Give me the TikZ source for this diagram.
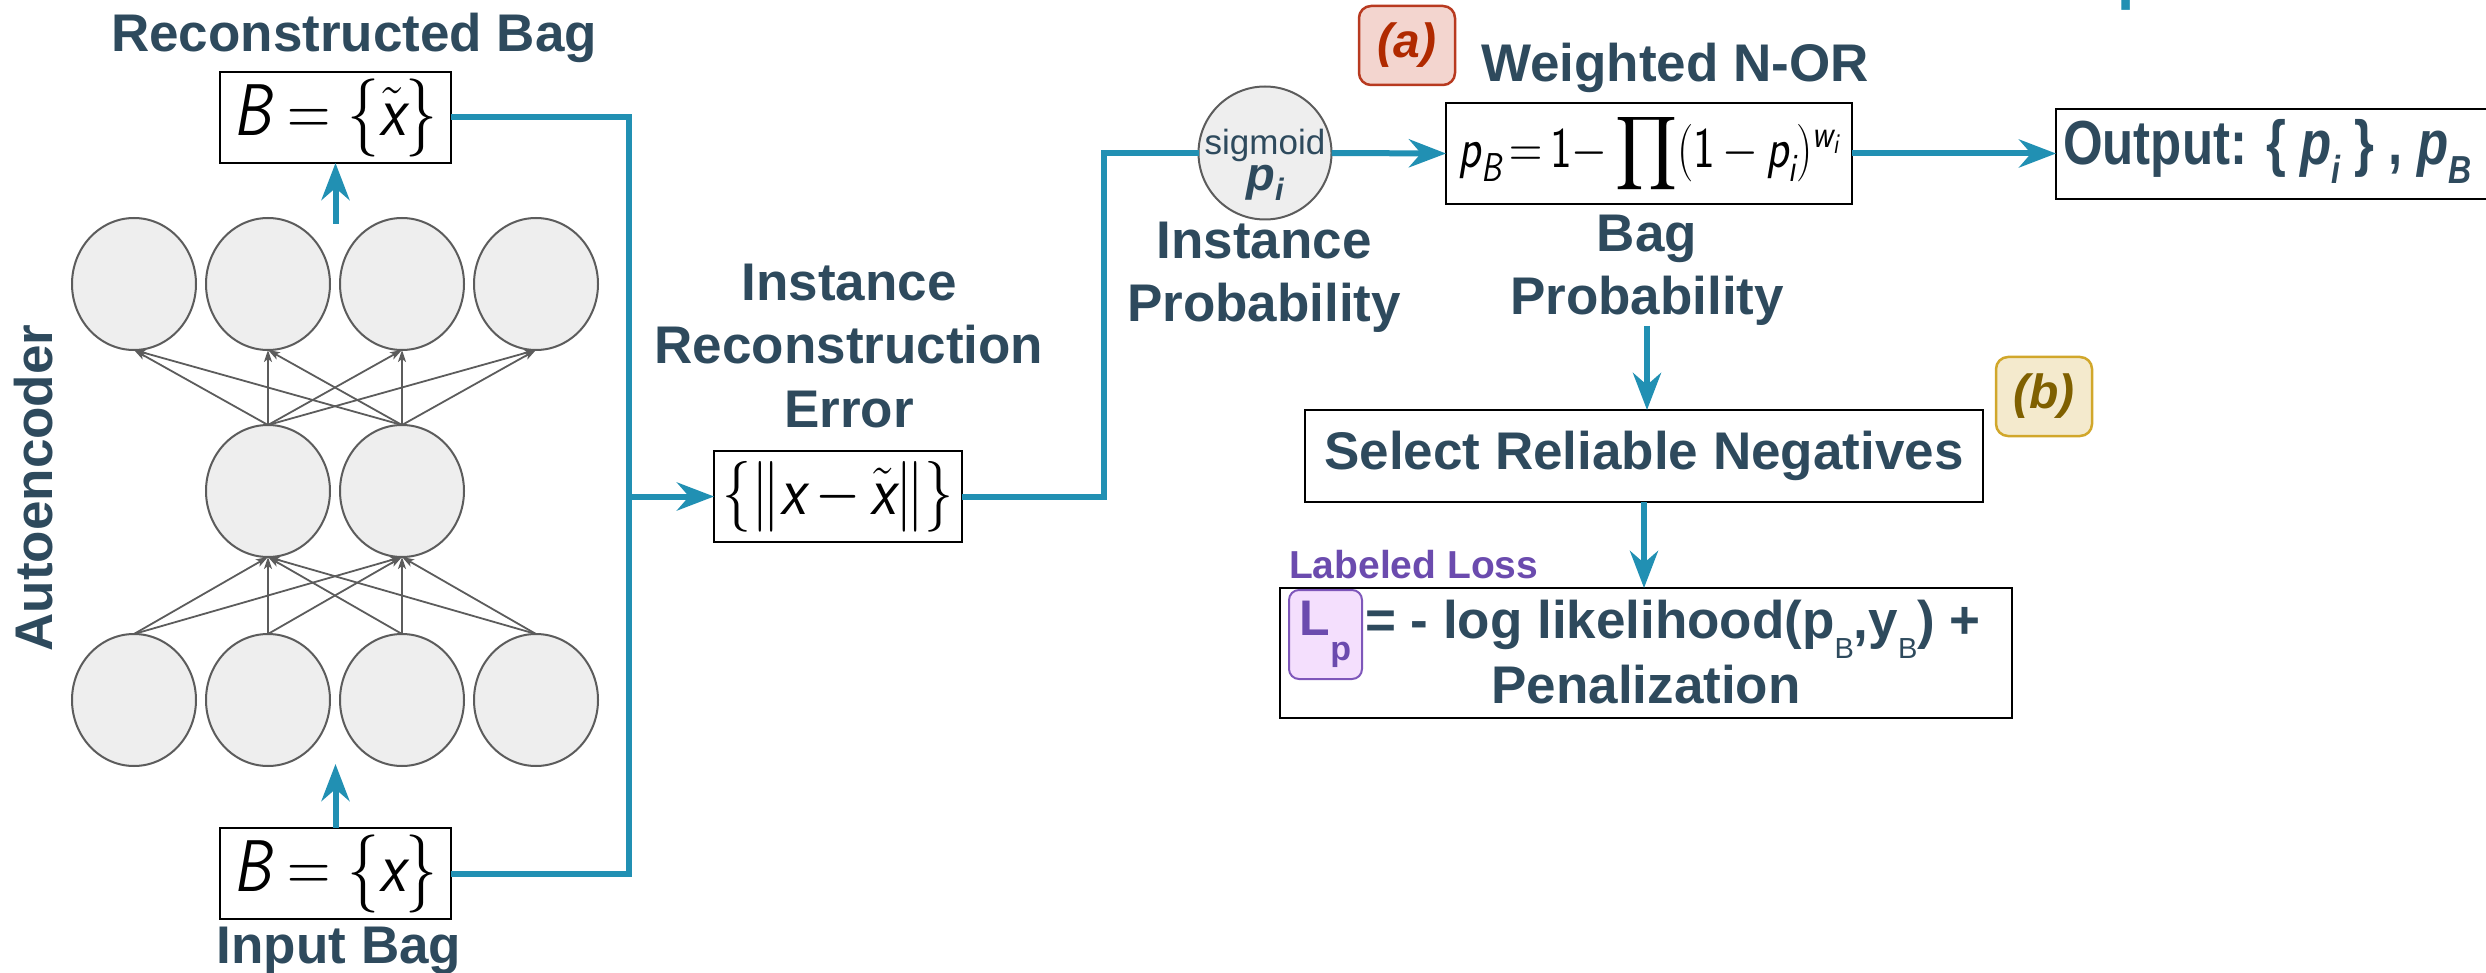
\RequirePackage{fix-cm}
\documentclass[tikz,border=0pt]{standalone}
\usepackage{amsmath}
\usepackage{graphicx}
\usepackage{fontspec}
\setmainfont{Liberation Sans}
\usetikzlibrary{arrows.meta,shapes.geometric}

\definecolor{ink}{HTML}{2E4A5D}
\definecolor{flowblue}{HTML}{2190B3}
\definecolor{nrnfill}{HTML}{EEEEEE}
\definecolor{nrnline}{HTML}{5C5C5C}
\definecolor{tagAfill}{HTML}{F3D5CF}
\definecolor{tagAline}{HTML}{B83A20}
\definecolor{tagAtext}{HTML}{B02A00}
\definecolor{tagBfill}{HTML}{F4EACD}
\definecolor{tagBline}{HTML}{D1A72B}
\definecolor{tagBtext}{HTML}{7F6000}
\definecolor{lossviolet}{HTML}{6B4BAE}
\definecolor{lpfill}{HTML}{F4DFFD}
\definecolor{lpline}{HTML}{7E57BA}

% sans-serif italic letters for the formulas
\newcommand\sv[1]{\textsf{\itshape #1}}
% delimiters and product sign stretched to a given height
\newcommand\sizedopen[2]{\mathopen{\vcenter{\hbox{\resizebox*{!}{#1}{$#2$}}}}}
\newcommand\sizedclose[2]{\mathclose{\vcenter{\hbox{\resizebox*{!}{#1}{$#2$}}}}}
\newcommand\bigprod[2]{\mathop{\vcenter{\hbox{\resizebox*{#1}{#2}{$\displaystyle\prod$}}}}}
% lowered subscript used in the bold labels
\newcommand\lowsub[3]{\raisebox{-#1}{\fontsize{#2}{#2}\selectfont #3}}

\tikzset{
  every node/.style={inner sep=0pt, outer sep=0pt},
  lab/.style={font=\fontsize{53}{63.5}\selectfont\bfseries, text=ink, align=center},
  formbox/.style={draw=black, line width=2.4pt, fill=white},
  neuron/.style={ellipse, draw=nrnline, fill=nrnfill, line width=2pt,
    minimum width=124pt, minimum height=132pt},
  flow/.style={draw=flowblue, line width=6pt, line join=miter},
  flowarrow/.style={flow, -{Stealth[length=37pt,width=28pt,inset=12pt]}},
  link/.style={draw=nrnline, line width=1.8pt, -{Stealth[length=12pt,width=8pt,inset=3pt]}},
  tag/.style={rounded corners=12pt, line width=2.5pt, minimum width=96pt,
    minimum height=79pt, font=\fontsize{48}{50}\selectfont\bfseries\itshape},
}

\begin{document}
\begin{tikzpicture}[x=1pt, y=-1pt]
\useasboundingbox (0,0) rectangle (2486,973);

% ---------------- autoencoder ----------------
\node[lab, anchor=base] (reconlab) at (354,52) {Reconstructed Bag};
\node[formbox, minimum width=231pt, minimum height=91pt, font=\fontsize{60}{64}\selectfont] (topbox) at (335.5,117.5)
  {\scalebox{1}[1.22]{$\sv{B}\;{=}\;\sizedopen{64pt}{\{}\tilde{\sv{x}}\sizedclose{64pt}{\}}$}};

\foreach \i/\x in {1/134,2/268,3/402,4/536}{
  \node[neuron] (t\i) at (\x,284) {};
  \node[neuron] (b\i) at (\x,700) {};
}
\node[neuron] (m1) at (268,491) {};
\node[neuron] (m2) at (402,491) {};

\foreach \m in {m1,m2}
  \foreach \t in {t1,t2,t3,t4}
    \draw[link] (\m.north) -- (\t.south);
\foreach \b in {b1,b2,b3,b4}
  \foreach \m in {m1,m2}
    \draw[link] (\b.north) -- (\m.south);

\node[formbox, minimum width=231pt, minimum height=91pt, font=\fontsize{60}{64}\selectfont] (botbox) at (335.5,873.5)
  {\scalebox{1}[1.22]{$\sv{B}\;{=}\;\sizedopen{64pt}{\{}\sv{x}\sizedclose{64pt}{\}}$}};
\node[lab, anchor=base] (inputlab) at (339,963) {Input Bag};
\node[lab, anchor=base, rotate=90] (autolab) at (52,488) {Autoencoder};

\coordinate (upfrom) at (335.5,224);
\coordinate (uptip) at (335.5,764);
\draw[flowarrow] (upfrom) -- (topbox.south);
\draw[flowarrow] (botbox.north) -- (uptip);

% ---------------- reconstruction error ----------------
\node[lab, anchor=north] (errlab) at (849,264) {Instance\\Reconstruction\\Error};
\node[formbox, minimum width=248pt, minimum height=91pt, font=\fontsize{58}{62}\selectfont] (errbox) at (838,496.5)
  {\scalebox{1}[1.22]{$\sizedopen{58pt}{\{}\sizedopen{58pt}{\|}\sv{x}\,{-}\,\tilde{\sv{x}}\sizedclose{58pt}{\|}\sizedclose{58pt}{\}}$}};

\coordinate (junc) at (629,496.5);
\draw[flow] (topbox.east) -| (junc) |- (botbox.east);
\draw[flowarrow] (junc) -- (errbox.west);

% ---------------- instance probability ----------------
\node[circle, draw=nrnline, fill=nrnfill, line width=2pt, minimum size=133pt] (sig) at (1265,153) {};
\node[text=ink, align=center, font=\fontsize{35}{40}\selectfont] (sigtxt) at (1265,165)
  {sigmoid\\[-4pt]{\fontsize{47}{47}\selectfont\bfseries\itshape p\lowsub{0.22em}{31}{i}}};
\node[lab, anchor=north] (instlab) at (1264,222) {Instance\\Probability};

\coordinate (bend) at (1104,153);
\draw[flow] (errbox.east) -| (bend) -- (sig.west);

% ---------------- weighted noisy-or ----------------
\node[tag, draw=tagAline, fill=tagAfill, text=tagAtext] (taga) at (1407,45.5) {(a)};
\node[lab, anchor=base] (norlab) at (1675,82) {Weighted N-OR};
\node[formbox, minimum width=406pt, minimum height=101pt, font=\fontsize{46}{50}\selectfont] (norbox) at (1649,153.5)
  {\scalebox{1}[1.25]{$\sv{p}_{\sv{B}}\,{=}\,\textsf{1}{-}\bigprod{62pt}{66pt}(\textsf{1}\,{-}\,\sv{p}_{\sv{i}})^{\sv{w}_{\sv{i}}}$}};
\node[lab, anchor=north] (baglab) at (1647,215) {Bag\\Probability};
\draw[flowarrow] (sig.east) -- (norbox.west);

% ---------------- output ----------------
\node[draw=black, line width=2.4pt, fill=white, minimum width=474pt, minimum height=90pt] (outbox) at (2293,154) {};
\node[anchor=base west, text=ink, font=\fontsize{51}{60}\selectfont\bfseries] (outtxt) at (2063,165)
  {\scalebox{1}[1.22]{Output: \{ \textit{p}\lowsub{0.3em}{32}{\textit{i}} \} , \textit{p}\lowsub{0.3em}{32}{\textit{B}}}};
\draw[flowarrow] (norbox.east) -- (norbox.east -| outbox.west);
\node[anchor=base west, text=flowblue, font=\fontsize{62}{62}\selectfont\bfseries] (cutp) at (2117,-2) {p};

% ---------------- reliable negatives and loss ----------------
\node[draw=black, line width=2.4pt, minimum width=678pt, minimum height=92pt, lab] (select) at (1644,456)
  {Select Reliable Negatives};
\node[tag, draw=tagBline, fill=tagBfill, text=tagBtext] (tagb) at (2044,396.5) {(b)};
\draw[flowarrow] (baglab.south) -- (baglab.south |- select.north);

\node[anchor=base west, text=lossviolet, font=\fontsize{39}{40}\selectfont\bfseries] (losslab) at (1289,578) {Labeled Loss};
\node[draw=black, line width=2.4pt, minimum width=732pt, minimum height=130pt] (lossbox) at (1646,653) {};
\draw[flowarrow] (select.south) -- (select.south |- lossbox.north);
\node[draw=lpline, fill=lpfill, line width=2pt, rounded corners=10pt, minimum width=73pt, minimum height=89pt,
  text=lossviolet, font=\fontsize{50}{50}\selectfont\bfseries] (lp) at (1325.5,634.5)
  {L\lowsub{0.5em}{34}{p}};
\node[lab, anchor=base west] (lossline) at (1365,638)
  {= - log likelihood(p\lowsub{0.38em}{29}{\mdseries B},y\lowsub{0.38em}{29}{\mdseries B}) +};
\node[lab, anchor=base] (penal) at (1646,703) {Penalization};
\end{tikzpicture}
\end{document}
